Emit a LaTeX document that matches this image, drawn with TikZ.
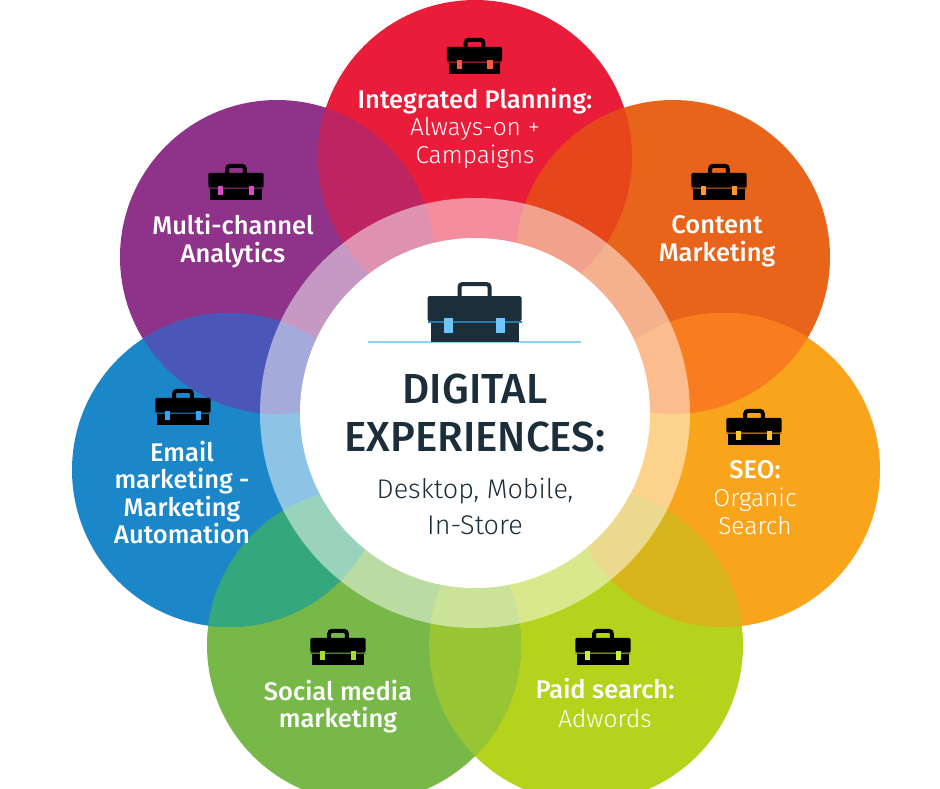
\documentclass[tikz,border=0pt]{standalone}
\usepackage{fontspec}
\setmainfont{Fira Sans}
\newfontfamily\medfont{Fira Sans Medium}
\newfontfamily\lightfont{Fira Sans Light}
\definecolor{cred}{HTML}{E91C3A}
\definecolor{corange}{HTML}{E8641B}
\definecolor{cyellow}{HTML}{F9A51C}
\definecolor{clime}{HTML}{B5D21C}
\definecolor{cgreen}{HTML}{78B849}
\definecolor{cblue}{HTML}{1B87C9}
\definecolor{cpurple}{HTML}{8E3389}
\definecolor{xpr}{HTML}{BD2562}
\definecolor{xro}{HTML}{E6461A}
\definecolor{xoy}{HTML}{F97C1E}
\definecolor{xyl}{HTML}{D8B41C}
\definecolor{xlg}{HTML}{97C534}
\definecolor{xgb}{HTML}{34A87C}
\definecolor{xbp}{HTML}{4A57B8}
\definecolor{cdark}{HTML}{1C2E3A}
\definecolor{cline}{HTML}{8FD2FA}
\definecolor{clatch}{HTML}{6EC6F8}
\definecolor{cband}{HTML}{2A78A8}
\definecolor{lred}{HTML}{FF5A3C}
\definecolor{lorange}{HTML}{FF9A28}
\definecolor{lyellow}{HTML}{FFC820}
\definecolor{lblue}{HTML}{36A6F0}
\definecolor{lgreen}{HTML}{A8DC28}
\definecolor{llime}{HTML}{C8F040}
\definecolor{lpurple}{HTML}{D84CC8}
\tikzset{
  x=1pt,y=-1pt,
  lab/.style={text=white,font=\medfont\fontsize{25.5}{27.6}\selectfont,align=center,inner sep=0pt},
  sub/.style={text=white,font=\lightfont\fontsize{24.5}{27.6}\selectfont,align=center,inner sep=0pt},
  pics/case/.style n args={3}{code={
    \fill[#1,rounded corners=1.5] (-47,-46) rectangle (47,-21);
    \fill[#1] (-44,-21) rectangle (44,0);
    \draw[#1,line width=4,rounded corners=3] (-15,-46) -- (-15,-58) -- (15,-58) -- (15,-46);
    \fill[#2] (-47,-21) rectangle (47,-19);
    \fill[#3] (-30.5,-24) rectangle (-21.5,-9);
    \fill[#3] (21.5,-24) rectangle (30.5,-9);
  }}
}
\begin{document}
\begin{tikzpicture}
\useasboundingbox (0,0) rectangle (940,788);
\clip (0,0) rectangle (940,788);
\def\R{157}
\coordinate (cR) at (475,157);
\coordinate (cO) at (673,257);
\coordinate (cY) at (723,470);
\coordinate (cL) at (586,645);
\coordinate (cG) at (364,645);
\coordinate (cB) at (229,470);
\coordinate (cP) at (277,257);
\coordinate (cC) at (475,413);
\foreach \c/\k in {cP/cpurple,cR/cred,cO/corange,cY/cyellow,cL/clime,cG/cgreen,cB/cblue}
  \fill[\k] (\c) circle[radius=\R];
\foreach \a/\b/\k in {cP/cR/xpr,cR/cO/xro,cO/cY/xoy,cY/cL/xyl,cL/cG/xlg,cG/cB/xgb,cB/cP/xbp}{
  \begin{scope}
    \clip (\a) circle[radius=\R];
    \fill[\k] (\b) circle[radius=\R];
  \end{scope}
}
\fill[white,fill opacity=.5] (cC) circle[radius=215];
\fill[white] (cC) circle[radius=175];
\draw[cline,line width=2] (368,341.5) -- (581,341.5);
\pic at (474.5,342) {case={cdark}{cband}{clatch}};
\pic[scale=.59] at (474.5,74) {case={black}{cred!65!black}{lred}};
\pic[scale=.59] at (719,200) {case={black}{corange!65!black}{lorange}};
\pic[scale=.59] at (236,200) {case={black}{cpurple!70!black}{lpurple}};
\pic[scale=.59] at (754,445) {case={black}{cyellow!65!black}{lyellow}};
\pic[scale=.59] at (183,425) {case={black}{cblue!70!black}{lblue}};
\pic[scale=.59] at (338,665) {case={black}{cgreen!65!black}{lgreen}};
\pic[scale=.59] at (603,665) {case={black}{clime!65!black}{llime}};
\node[lab] (t1) at (475,101) {Integrated Planning:};
\node[sub] (t1b) at (475,143) {Always-on +\\Campaigns};
\node[lab] (t2) at (717,241) {Content\\Marketing};
\node[lab] (t3) at (233,241) {Multi-channel\\Analytics};
\node[lab] (t4) at (755,470) {SEO:};
\node[sub] (t4b) at (755,511.5) {Organic\\Search};
\node[lab] (t5) at (182,492.5) {Email\\marketing -\\Marketing\\Automation};
\node[lab] (t6) at (338,706.5) {Social media\\marketing};
\node[lab] (t7) at (605,689) {Paid search:};
\node[sub] (t7b) at (605,719) {Adwords};
\node[text=cdark,font=\medfont\fontsize{42}{48}\selectfont,align=center,inner sep=0pt] (m) at (475,413) {DIGITAL\\EXPERIENCES:};
\node[text=cdark,font=\lightfont\fontsize{27}{35.5}\selectfont,align=center,inner sep=0pt] (s) at (475,506.5) {Desktop, Mobile,\\In-Store};
\end{tikzpicture}
\end{document}
